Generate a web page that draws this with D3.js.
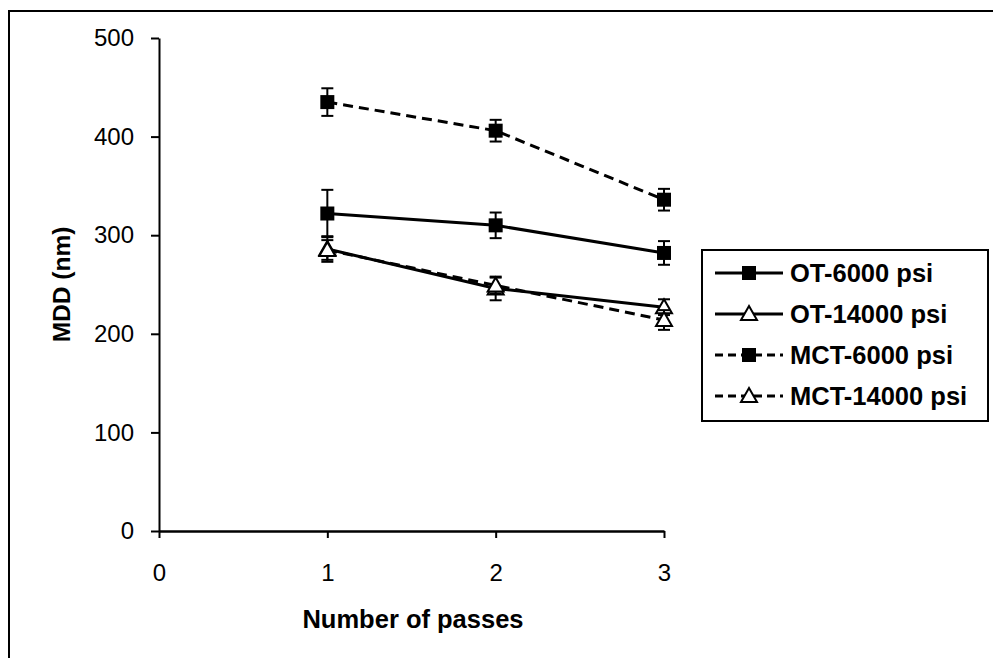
<!DOCTYPE html>
<html>
<head>
<meta charset="utf-8">
<script src="https://cdn.jsdelivr.net/npm/d3@7"></script>
<style>
  body { margin: 0; background: #fff; }
  text { font-family: Arial, "Liberation Sans", sans-serif; fill: #000; }
</style>
</head>
<body>
<div id="chart"></div>
<script>
// data
const passes = [1, 2, 3];
const ot6000 = [322, 310, 282];
const ot6000Err = [24, 13, 12];
const ot14000 = [286, 246, 227];
const ot14000Err = [13, 12, 8];
const mct6000 = [435, 406, 336];
const mct6000Err = [14, 11, 11];
const mct14000 = [285, 249, 214];
const mct14000Err = [10, 8, 10];
const xTicks = [0, 1, 2, 3];
const yTicks = [0, 100, 200, 300, 400, 500];

const series = [
  { name: 'OT-6000 psi', values: ot6000, err: ot6000Err, dash: null, marker: 'square' },
  { name: 'OT-14000 psi', values: ot14000, err: ot14000Err, dash: null, marker: 'triangle' },
  { name: 'MCT-6000 psi', values: mct6000, err: mct6000Err, dash: '10,6', marker: 'square' },
  { name: 'MCT-14000 psi', values: mct14000, err: mct14000Err, dash: '10,6', marker: 'triangle' }
];

const width = 993, height = 658;
const margin = { top: 38, left: 159, right: 329, bottom: 127 };

let svg = d3.select('#chart').append('svg')
  .attr('width', width)
  .attr('height', height);

// outer frame
svg.append('rect')
  .attr('x', 9).attr('y', 11)
  .attr('width', 1000).attr('height', 700)
  .attr('fill', 'none')
  .attr('stroke', '#000')
  .attr('stroke-width', 2);

const xScale = d3.scaleLinear().domain([0, 3]).range([margin.left, width - margin.right]);
const yScale = d3.scaleLinear().domain([0, 500]).range([height - margin.bottom, margin.top]);

// y axis
let yAxis = svg.append('g')
  .attr('transform', `translate(${margin.left},0)`)
  .call(d3.axisLeft(yScale).tickValues(yTicks).tickSize(8).tickPadding(17).tickSizeOuter(0));
yAxis.select('.domain').attr('stroke-width', 2);
yAxis.selectAll('.tick line').attr('stroke-width', 2);
yAxis.selectAll('text').style('font-size', '24px').style('font-family', 'Arial, "Liberation Sans", sans-serif');

// x axis
let xAxis = svg.append('g')
  .attr('transform', `translate(0,${yScale(0)})`)
  .call(d3.axisBottom(xScale).tickValues(xTicks).tickFormat(d3.format('d'))
    .tickSize(7).tickPadding(26).tickSizeOuter(0));
xAxis.select('.domain').attr('stroke-width', 2.5);
xAxis.selectAll('.tick line').attr('stroke-width', 2);
xAxis.selectAll('text').style('font-size', '24px').style('font-family', 'Arial, "Liberation Sans", sans-serif');

// axis titles
svg.append('text')
  .attr('x', 413)
  .attr('y', 628)
  .attr('text-anchor', 'middle')
  .style('font-size', '25.5px')
  .style('font-weight', 'bold')
  .text('Number of passes');

svg.append('text')
  .attr('transform', `translate(70,${(yScale(0) + yScale(500)) / 2}) rotate(-90)`)
  .attr('text-anchor', 'middle')
  .style('font-size', '24.5px')
  .style('font-weight', 'bold')
  .text('MDD (nm)');

function drawMarker(sel, type, x, y) {
  if (type === 'square') {
    sel.append('rect')
      .attr('x', x - 7).attr('y', y - 7)
      .attr('width', 14).attr('height', 14)
      .attr('fill', '#000');
  } else {
    sel.append('path')
      .attr('d', `M${x},${y - 8}L${x + 8},${y + 6}L${x - 8},${y + 6}Z`)
      .attr('fill', '#fff')
      .attr('stroke', '#000')
      .attr('stroke-width', 2);
  }
}

const line = d3.line()
  .x((d, i) => xScale(passes[i]))
  .y(d => yScale(d));

series.forEach(s => {
  let g = svg.append('g');
  // error bars
  s.values.forEach((v, i) => {
    const x = xScale(passes[i]);
    const top = yScale(v + s.err[i]);
    const bot = yScale(v - s.err[i]);
    g.append('line').attr('x1', x).attr('x2', x).attr('y1', top).attr('y2', bot)
      .attr('stroke', '#000').attr('stroke-width', 2);
    [top, bot].forEach(yy => {
      g.append('line').attr('x1', x - 6).attr('x2', x + 6).attr('y1', yy).attr('y2', yy)
        .attr('stroke', '#000').attr('stroke-width', 2);
    });
  });
  g.append('path')
    .datum(s.values)
    .attr('d', line)
    .attr('fill', 'none')
    .attr('stroke', '#000')
    .attr('stroke-width', 3)
    .attr('stroke-dasharray', s.dash);
  s.values.forEach((v, i) => drawMarker(g, s.marker, xScale(passes[i]), yScale(v)));
});

// legend
let legend = svg.append('g');
legend.append('rect')
  .attr('x', 702).attr('y', 250)
  .attr('width', 286).attr('height', 171)
  .attr('fill', '#fff')
  .attr('stroke', '#000')
  .attr('stroke-width', 2);

const legendY = [273, 314, 355, 396];
series.forEach((s, i) => {
  const y = legendY[i];
  legend.append('line')
    .attr('x1', 715).attr('x2', 783).attr('y1', y).attr('y2', y)
    .attr('stroke', '#000').attr('stroke-width', 3)
    .attr('stroke-dasharray', s.dash ? '8,5' : null);
  drawMarker(legend, s.marker, 749, y);
  legend.append('text')
    .attr('x', 790)
    .attr('y', y + 9)
    .style('font-size', '25.5px')
    .style('font-weight', 'bold')
    .text(s.name);
});
</script>
</body>
</html>
